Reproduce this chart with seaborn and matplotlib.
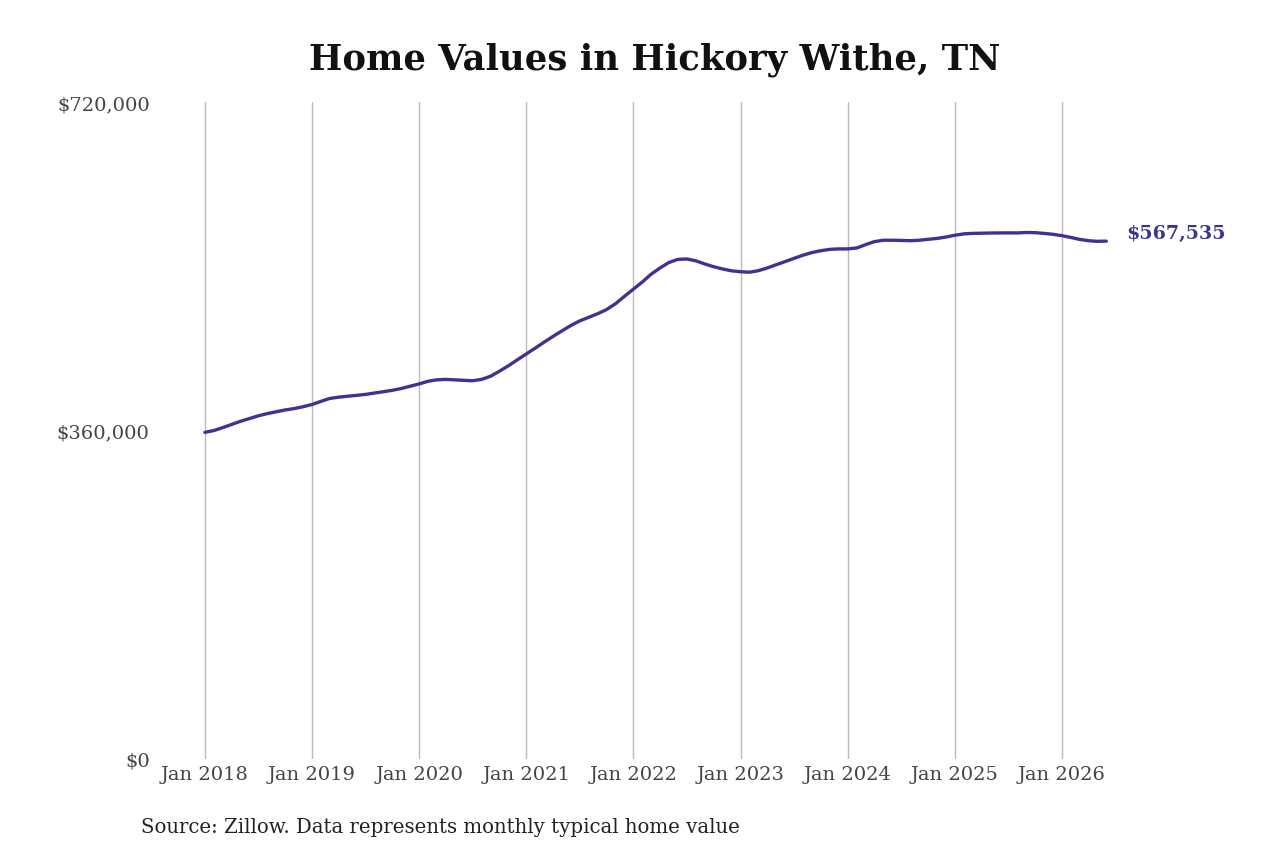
import pandas as pd
import seaborn as sns
import matplotlib.pyplot as plt
import matplotlib.dates as mdates
from matplotlib.ticker import FuncFormatter

# Monthly typical home value, Jan 2018 - Jun 2026
values_2018 = [358000, 360000, 363000, 366500, 370000, 373000,
               376000, 378500, 380500, 382500, 384000, 386000]
values_2019 = [388500, 392000, 395000, 396500, 397500, 398500,
               399500, 401000, 402500, 404000, 406000, 408500]
values_2020 = [411000, 414000, 415500, 416000, 415500, 415000,
               414500, 416000, 419500, 425000, 431000, 437500]
values_2021 = [444000, 450500, 456500, 463000, 469000, 475000,
               480000, 484000, 488000, 492500, 499000, 507000]
values_2022 = [515000, 523000, 531000, 538000, 544000, 547500,
               548000, 546000, 542500, 539500, 537000, 535000]
values_2023 = [534000, 533500, 535000, 538000, 541500, 545000,
               548500, 552000, 555000, 557000, 558500, 559000]
values_2024 = [559000, 560000, 563500, 567000, 568500, 568500,
               568300, 568000, 568500, 569500, 570500, 572000]
values_2025 = [574000, 575500, 576000, 576200, 576400, 576500,
               576600, 576500, 577000, 576800, 576000, 575000]
values_2026 = [573500, 571500, 569500, 568000, 567300, 567535]

values = (values_2018 + values_2019 + values_2020 + values_2021 + values_2022
          + values_2023 + values_2024 + values_2025 + values_2026)
dates = pd.date_range('2018-01-01', periods=len(values), freq='MS')
df = pd.DataFrame({'date': dates, 'value': values})

y_ticks = [0, 360000, 720000]
title = 'Home Values in Hickory Withe, TN'
source = 'Source: Zillow. Data represents monthly typical home value'

line_color = '#3b3492'

sns.set_theme(style="white")
plt.rcParams['font.family'] = ['DejaVu Serif']

fig = plt.figure(figsize=(12.8, 8.53), dpi=100)
ax = fig.add_axes([190 / 1280, 1 - 760 / 853, 970 / 1280, 657 / 853])

sns.lineplot(data=df, x='date', y='value', color=line_color, linewidth=2.4, ax=ax)

ax.set_xlim(pd.Timestamp('2017-11-11'), pd.Timestamp('2026-12-01'))
ax.set_ylim(0, 720000)
ax.set_yticks(y_ticks)
ax.yaxis.set_major_formatter(FuncFormatter(lambda v, p: f'${v:,.0f}'))
ax.xaxis.set_major_locator(mdates.YearLocator())
ax.xaxis.set_major_formatter(mdates.DateFormatter('%b %Y'))
ax.set_xlabel('')
ax.set_ylabel('')
ax.tick_params(axis='both', length=0, labelsize=14, labelcolor='#444444')
ax.tick_params(axis='y', pad=29)
ax.tick_params(axis='x', pad=4)
ax.grid(axis='x', color='#bbbbbb', linewidth=1)
ax.grid(axis='y', visible=False)
sns.despine(ax=ax, left=True, bottom=True)

last = df.iloc[-1]
ax.annotate(f'${last.value:,.0f}', xy=(last.date, last.value), xytext=(14, 6),
            textcoords='offset points', ha='left', va='center',
            fontsize=13.7, fontweight='bold', color=line_color)

fig.text(655 / 1280, 1 - 60 / 853, title, ha='center', va='center',
         fontsize=25.5, fontweight='bold', color='#111111')
fig.text(141 / 1280, 1 - 828 / 853, source, ha='left', va='center',
         fontsize=14.2, color='#222222')

fig.savefig('out.png', dpi=100)
